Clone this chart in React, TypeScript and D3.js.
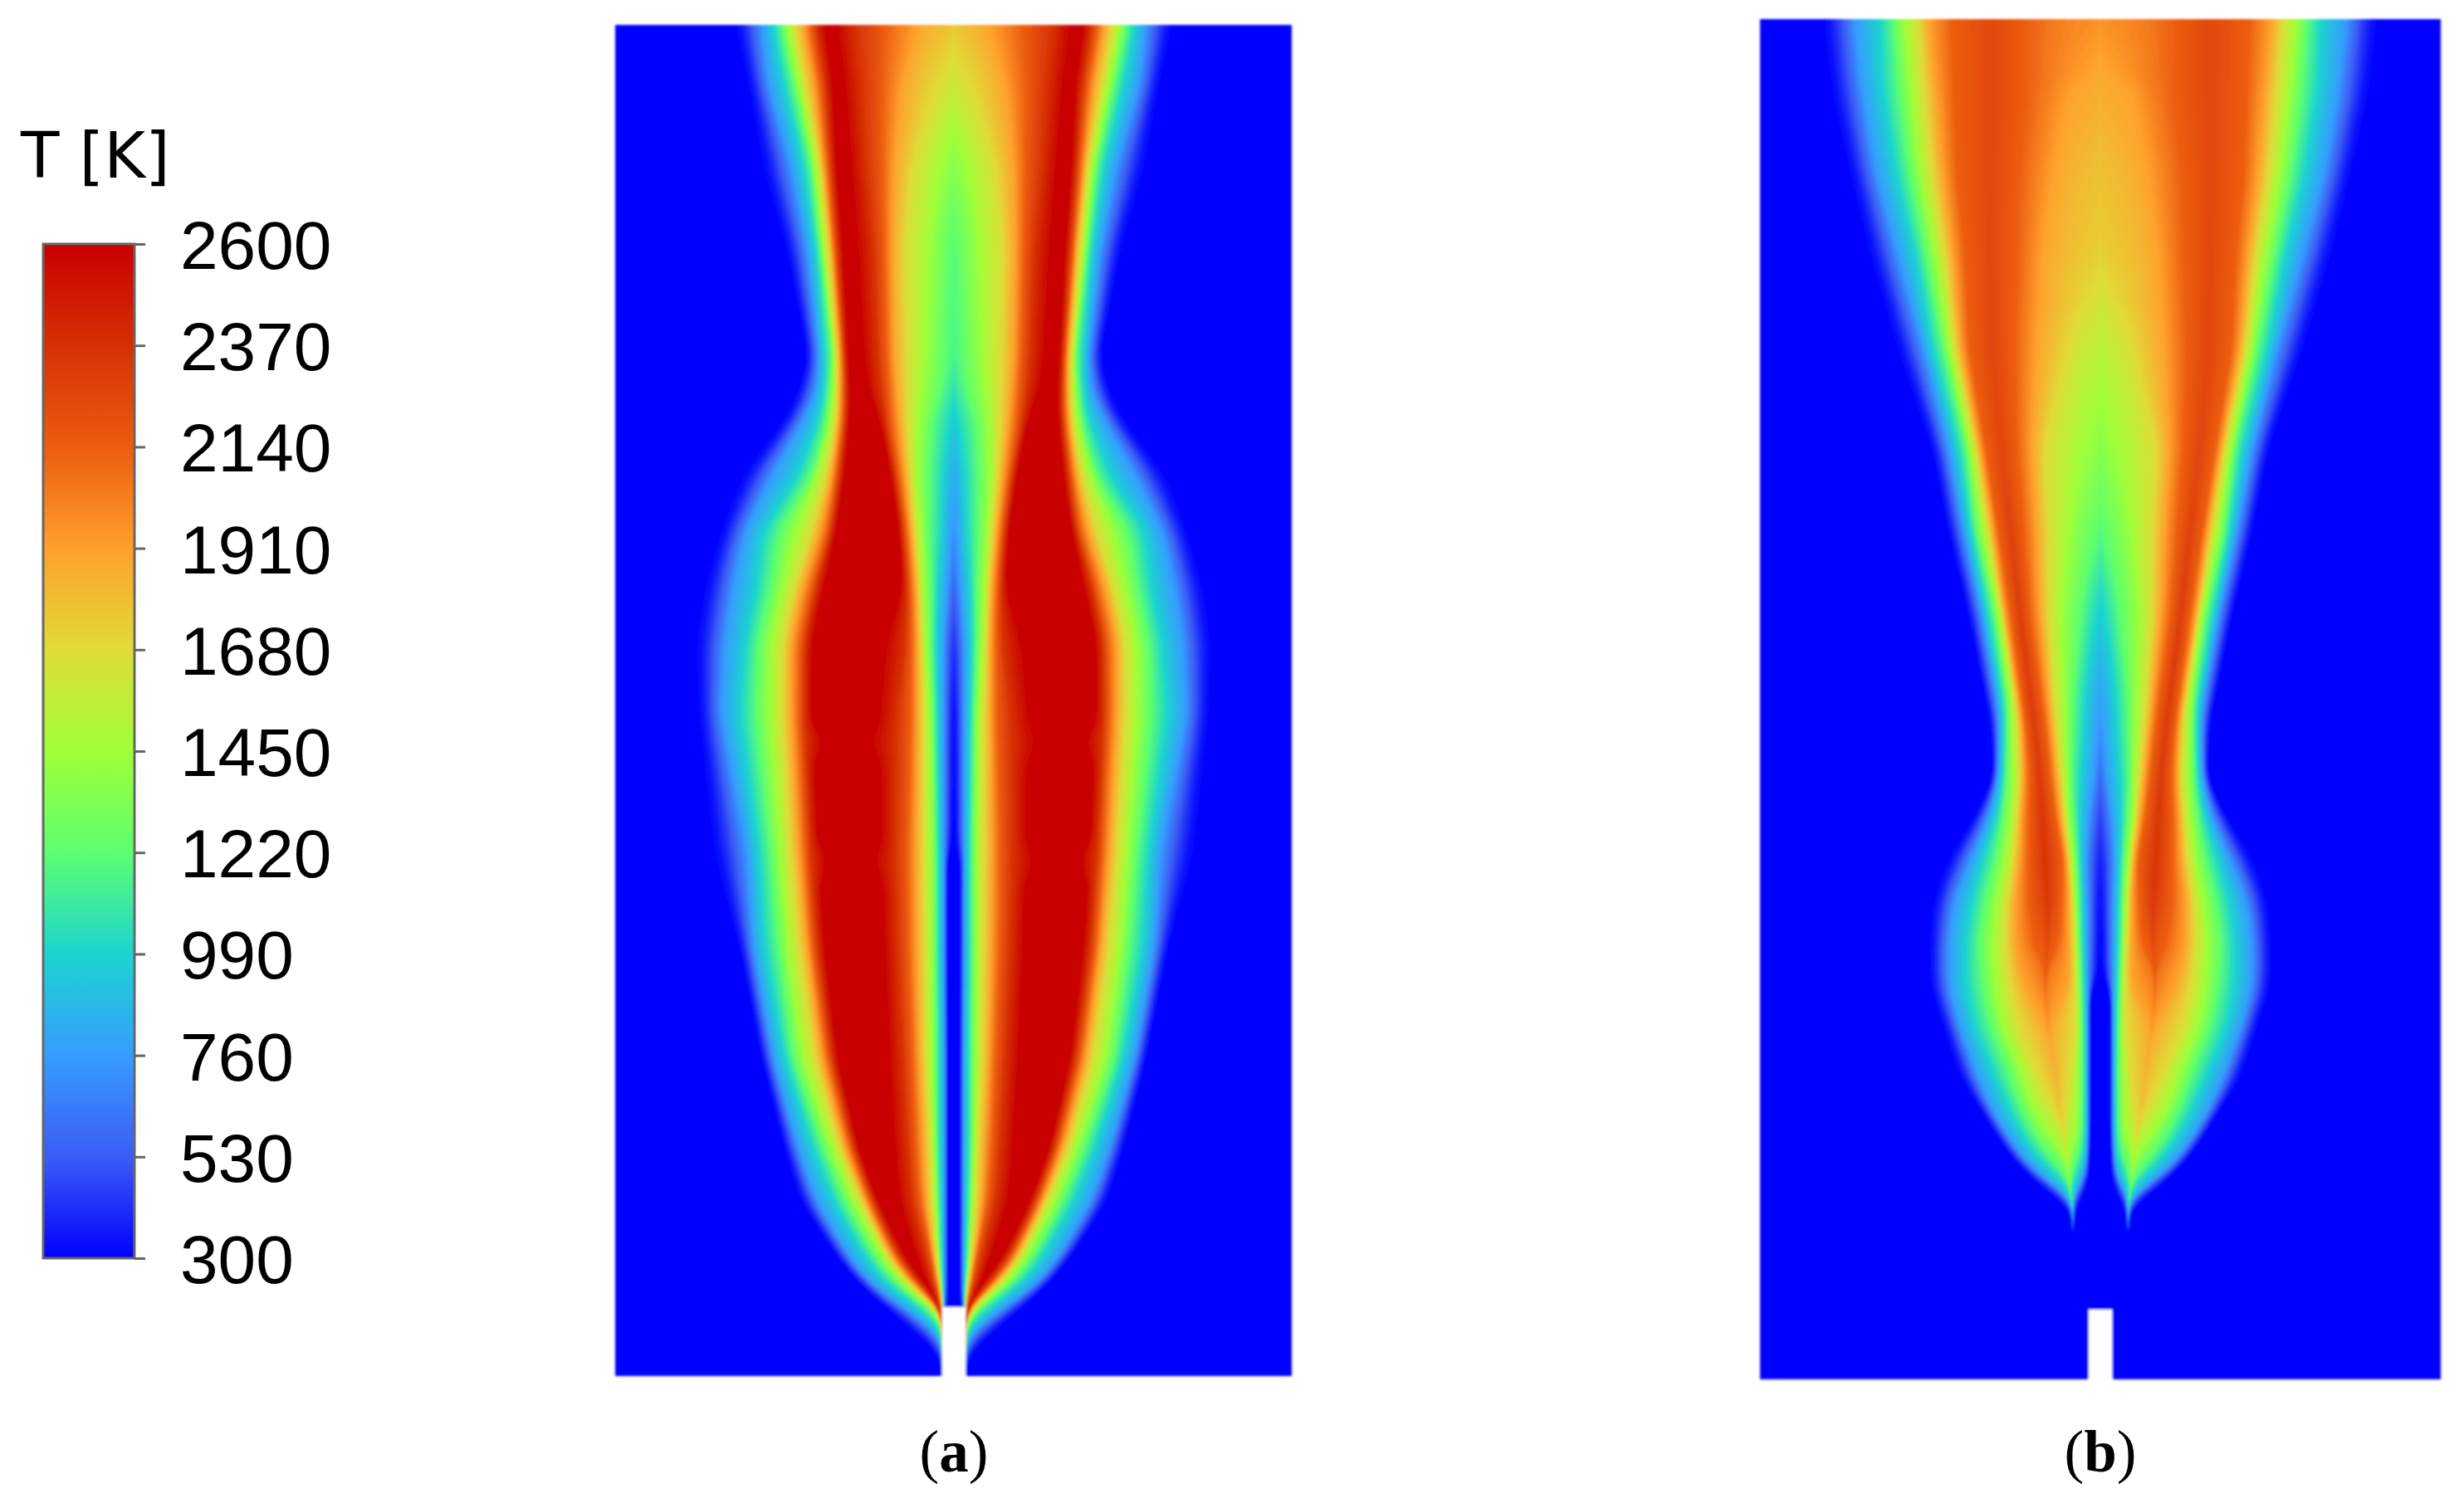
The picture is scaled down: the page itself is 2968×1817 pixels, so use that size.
import { useEffect, useRef } from "react";
import * as d3 from "d3";

// colour bar
const colorStops = [300, 530, 760, 990, 1220, 1450, 1680, 1910, 2140, 2370, 2600];
const colorValues = ["#0000ff", "#3c5cf5", "#369cff", "#1cd4d0", "#5cff70", "#a0ff38", "#e0dc38", "#ffa02c", "#ec5c10", "#d63004", "#c80000"];
const tickLabels = [2600, 2370, 2140, 1910, 1680, 1450, 1220, 990, 760, 530, 300];

// isotherm levels: each profile row gives the radius (px from the axis) of these temperatures
const levels = [300, 760, 990, 1220, 1450, 1680, 1910, 2140, 2370, 2600];

// panel (a)
const aHeights = [30, 100, 200, 300, 430, 473, 507, 573, 640, 707, 773, 860, 1027, 1140, 1275, 1380, 1447, 1513, 1547, 1575, 1590, 1610, 1630, 1658];
const aOuter = [
  [269, 232, 219, 209, 201, 192, 182, 174, 166, 156],
  [252, 224, 206, 194, 187, 179, 169, 161, 154, 146],
  [236, 196, 182, 172, 167, 161, 157, 152, 147, 142],
  [206, 177, 167, 161, 157, 152, 147, 144, 139, 134],
  [179, 162, 156, 147, 144, 141, 137, 134, 131, 127],
  [192, 166, 157, 151, 146, 141, 137, 133, 129, 125],
  [209, 182, 164, 154, 149, 142, 138, 134, 130, 126],
  [262, 219, 189, 172, 164, 154, 147, 142, 137, 132],
  [286, 252, 232, 212, 192, 172, 161, 152, 147, 142],
  [306, 266, 239, 221, 206, 192, 182, 172, 165, 156],
  [316, 276, 252, 236, 221, 206, 196, 186, 179, 171],
  [312, 281, 259, 239, 222, 207, 196, 187, 180, 171],
  [296, 249, 236, 221, 209, 197, 187, 179, 172, 163],
  [262, 242, 229, 212, 201, 187, 177, 171, 164, 156],
  [235, 218, 205, 194, 182, 168, 159, 152, 146, 140],
  [209, 189, 172, 159, 149, 139, 132, 126, 121, 116],
  [189, 166, 146, 132, 122, 112, 107, 102, 97, 92],
  [146, 127, 109, 97, 87, 81, 76, 71, 66, 59],
  [119, 101, 84, 72, 64, 56, 51, 46, 41, 36],
  [89, 62, 46, 32, 26, 21, 18, 16],
  [69, 39, 27, 17],
  [49, 19],
  [22],
  [14],
];
const aInner = [
  [0, 0, 0, 0, 0, 0, 42, 82, 119, 142],
  [0, 0, 0, 0, 0, 19, 62, 86, 112, 132],
  [0, 0, 0, 0, 16, 49, 72, 86, 106, 124],
  [0, 0, 0, 0, 29, 59, 74, 84, 97, 116],
  [0, 0, 0, 9, 34, 56, 72, 81, 92, 109],
  [0, 0, 0, 14, 38, 56, 69, 78, 88, 103],
  [0, 0, 0, 26, 42, 56, 66, 76, 83, 89],
  [0, 0, 12, 29, 44, 52, 59, 66, 71, 76],
  [0, 0, 14, 29, 39, 46, 52, 57, 62, 66],
  [0, 7, 19, 27, 36, 41, 46, 52, 57, 62],
  [0, 12, 21, 27, 34, 39, 44, 51, 59, 82],
  [0, 12, 19, 24, 29, 36, 44, 52, 69, 90],
  [7, 12, 17, 22, 27, 36, 46, 56, 71, 87],
  [7, 12, 17, 22, 27, 35, 45, 55, 68, 84],
  [7, 11, 16, 21, 27, 34, 42, 50, 62, 78],
  [7, 11, 16, 21, 24, 29, 37, 46, 56, 72],
  [7, 11, 15, 19, 22, 27, 34, 41, 51, 66],
  [7, 11, 14, 17, 19, 21, 25, 27, 34, 46],
  [7, 11, 13, 15, 16, 17, 19, 22, 26, 31],
  [7, 11, 12, 12.5, 13, 13, 13.5, 14],
  [13],
  [13],
  [13],
  [14],
];
const aAxis = [1800, 1650, 1400, 1220, 1180, 1100, 990, 850, 760, 600, 450, 350, 300, 300, 300, 300, 300, 300, 300, 300, 300, 300, 300, 300];
const aPeak = [2600, 2600, 2600, 2600, 2600, 2600, 2600, 2600, 2600, 2600, 2600, 2600, 2600, 2600, 2600, 2600, 2600, 2600, 2600, 2300, 1300, 800, 400, 300];
const aRidge = [150, 140, 133, 125, 118, 114, 108, 104, 104, 109, 126, 130, 124, 120, 109, 94, 79, 52, 33, 15, 14, 14, 14, 14];

// panel (b)
const bHeights = [23, 110, 210, 310, 420, 540, 640, 740, 850, 870, 937, 980, 1037, 1087, 1137, 1187, 1237, 1300, 1333, 1367, 1400, 1427, 1443, 1452, 1458, 1462, 1662];
const bOuter = [
  [340, 297, 267, 250, 237, 220, 207, 180],
  [330, 287, 263, 243, 228, 213, 198, 177],
  [307, 270, 247, 230, 217, 203, 190, 173],
  [283, 243, 223, 210, 198, 187, 177, 163],
  [250, 213, 203, 190, 182, 175, 168, 158],
  [207, 183, 172, 162, 157, 150, 145, 138],
  [187, 165, 157, 150, 142, 135, 129, 123],
  [163, 143, 137, 128, 123, 118, 115, 108],
  [140, 124, 118, 112, 107, 102, 98, 93],
  [134, 122, 117, 112, 107, 100, 95, 90],
  [130, 123, 118, 113, 105, 97, 92, 85],
  [153, 133, 125, 117, 108, 100, 95, 87],
  [190, 157, 143, 127, 115, 105, 97, 87],
  [207, 177, 157, 140, 125, 113, 103, 87],
  [210, 183, 163, 147, 130, 115, 103, 80],
  [210, 183, 163, 143, 127, 110, 93],
  [193, 170, 153, 133, 118, 100],
  [173, 147, 127, 108, 92, 73],
  [150, 133, 113, 97, 83, 60],
  [130, 113, 97, 80, 63],
  [107, 90, 73, 58],
  [80, 60, 47],
  [60],
  [52],
  [42],
  [33],
  [33],
];
const bInner = [
  [0, 0, 0, 0, 0, 0, 0, 87],
  [0, 0, 0, 0, 0, 0, 37, 87],
  [0, 0, 0, 0, 0, 0, 57, 97],
  [0, 0, 0, 0, 0, 0, 70, 100],
  [0, 0, 0, 0, 0, 37, 77, 103],
  [0, 0, 0, 0, 20, 67, 83, 100],
  [0, 0, 0, 0, 37, 62, 77, 92],
  [0, 0, 0, 23, 47, 62, 73, 85],
  [0, 0, 18, 33, 43, 55, 62, 70],
  [0, 0, 18, 33, 43, 53, 60, 67],
  [0, 7, 23, 35, 40, 47, 53, 60],
  [0, 13, 25, 32, 40, 43, 49, 55],
  [0, 17, 23, 28, 33, 37, 40, 45],
  [0, 15, 21, 26, 30, 34, 38, 47],
  [0, 15, 20, 25, 28, 32, 38, 50],
  [12, 15, 19, 23, 27, 30, 37],
  [12, 15, 18, 22, 25, 30],
  [12, 15, 18, 21, 27, 37],
  [12, 15, 18, 22, 28, 40],
  [12, 15, 18, 22, 28],
  [12, 17, 20, 27],
  [12, 20, 27],
  [16],
  [18],
  [22],
  [33],
  [33],
];
const bAxis = [1980, 1880, 1800, 1750, 1560, 1400, 1240, 1000, 800, 780, 620, 500, 400, 350, 320, 300, 300, 300, 300, 300, 300, 300, 300, 300, 300, 300, 300];
const bPeak = [2260, 2260, 2260, 2260, 2270, 2270, 2290, 2320, 2330, 2320, 2340, 2350, 2370, 2340, 2210, 2040, 1900, 1840, 1760, 1580, 1350, 1050, 650, 400, 320, 300, 300];
const bRidge = [133, 133, 133, 132, 130, 120, 108, 97, 83, 80, 73, 70, 67, 63, 63, 67, 63, 53, 50, 43, 40, 37, 35, 33, 33, 33, 33];

const panels = [
  { id: "a", left: 741, right: 1556, top: 30, bottom: 1658, axisX: 1149, notchTop: 1575, notch: 14, caption: "a", heights: aHeights, outer: aOuter, inner: aInner, axis: aAxis, peak: aPeak, ridge: aRidge },
  { id: "b", left: 2120, right: 2940, top: 23, bottom: 1662, axisX: 2530, notchTop: 1578, notch: 14, caption: "b", heights: bHeights, outer: bOuter, inner: bInner, axis: bAxis, peak: bPeak, ridge: bRidge },
];

const color = d3.scaleLinear<string>().domain(colorStops).range(colorValues).interpolate(d3.interpolateRgb);

const STEP = 8;

// radius for temperature t; first segment eases in so the edges stay soft
function radiusAt(stops: number[][], t: number) {
  if (t <= stops[0][0]) return stops[0][1];
  for (let i = 1; i < stops.length; i++) {
    if (t <= stops[i][0]) {
      let u = (t - stops[i - 1][0]) / (stops[i][0] - stops[i - 1][0]);
      if (i === 1) u = Math.pow(u, 0.6);
      return stops[i - 1][1] + (stops[i][1] - stops[i - 1][1]) * u;
    }
  }
  return stops[stops.length - 1][1];
}

// stops for any height between two read rows
function stopsAt(p: any, h: number) {
  const j = Math.min(Math.max(d3.bisectRight(p.heights, h), 1), p.heights.length - 1);
  const i = j - 1;
  const f = Math.min(1, (h - p.heights[i]) / (p.heights[j] - p.heights[i]));
  const axis = d3.interpolateNumber(p.axis[i], p.axis[j])(f);
  const peak = d3.interpolateNumber(p.peak[i], p.peak[j])(f);
  const ridge = d3.interpolateNumber(p.ridge[i], p.ridge[j])(f);
  const top = peak >= 2600;

  const out: number[][] = [];
  const inn: number[][] = [[axis, 0]];
  levels.forEach((l, k) => {
    const keep = top ? l <= peak : l < peak;
    if (keep) {
      out.push([l, d3.interpolateNumber(p.outer[i][k] ?? p.ridge[i], p.outer[j][k] ?? p.ridge[j])(f)]);
    }
    if (k === 0) {
      if (axis <= 300.001) inn[0][1] = d3.interpolateNumber(p.inner[i][0] ?? p.ridge[i], p.inner[j][0] ?? p.ridge[j])(f);
      return;
    }
    if (keep && l > axis) {
      const a = p.inner[i][k] ?? p.ridge[i];
      const b = p.inner[j][k] ?? p.ridge[j];
      if (a === 0 && b > 0) {
        // level leaves the axis somewhere between the two rows
        const fc = Math.max(0, (p.axis[i] - l) / (p.axis[i] - p.axis[j]));
        inn.push([l, b * Math.sqrt(Math.max(0, (f - fc) / (1 - fc)))]);
      } else {
        inn.push([l, d3.interpolateNumber(a, b)(f)]);
      }
    }
  });
  if (!top) {
    out.push([peak, ridge]);
    if (peak > axis) inn.push([peak, ridge]);
  }
  return { h, out, inn, peak };
}

function smooth(v: number[]) {
  return v.map((d, i) => (v[Math.max(0, i - 1)] + 2 * d + v[Math.min(v.length - 1, i + 1)]) / 4);
}

function drawPanel(svg: any, p: any) {
  const y = d3.scaleLinear().domain([p.top, p.bottom]).range([p.top, p.bottom]);
  const hs = d3.range(p.top, p.bottom, STEP).concat([p.bottom]);
  const rows = hs.map((h: number) => stopsAt(p, h));

  const g = svg.append("g").attr("filter", "url(#soft)");
  g.append("rect")
    .attr("x", p.left)
    .attr("y", p.top)
    .attr("width", p.right - p.left)
    .attr("height", p.bottom - p.top)
    .attr("fill", color(300));

  const clip = g.append("g").attr("clip-path", `url(#clip-${p.id})`);
  d3.range(320, 2601, 20).forEach((t) => {
    let x0 = rows.map((d: any) => radiusAt(d.peak < t ? d.out : d.inn, Math.min(t, d.peak)));
    let x1 = rows.map((d: any) => radiusAt(d.out, Math.min(t, d.peak)));
    for (let n = 0; n < 6; n++) {
      x0 = smooth(x0);
      x1 = smooth(x1);
    }
    const cells = hs.map((h: number, i: number) => ({ h, r0: x0[i], r1: x1[i] }));
    [-1, 1].forEach((side) => {
      const x = d3.scaleLinear().domain([0, 1]).range([p.axisX, p.axisX + side]);
      const band = d3
        .area<any>()
        .y((d) => y(d.h))
        .x0((d) => x(d.r0))
        .x1((d) => x(d.r1));
      clip.append("path").attr("d", band(cells)).attr("fill", color(t));
    });
  });

  // fuel inlet
  g.append("rect")
    .attr("x", p.axisX - p.notch)
    .attr("y", p.notchTop)
    .attr("width", p.notch * 2)
    .attr("height", p.bottom - p.notchTop + 6)
    .attr("fill", "#fff");

  const cap = svg
    .append("text")
    .attr("x", p.axisX)
    .attr("y", 1773)
    .attr("text-anchor", "middle")
    .attr("font-family", "Liberation Serif")
    .attr("font-size", 71)
    .attr("fill", "#000");
  cap.append("tspan").text("(");
  cap.append("tspan").attr("font-weight", "bold").text(p.caption);
  cap.append("tspan").text(")");
}

function drawLegend(svg: any) {
  const y = d3.scaleLinear().domain([300, 2600]).range([1516, 294]);
  const defs = svg.select("defs");
  const grad = defs.append("linearGradient").attr("id", "ramp").attr("x1", 0).attr("x2", 0).attr("y1", 1).attr("y2", 0);
  colorStops.forEach((t) => {
    grad.append("stop").attr("offset", (t - 300) / 2300).attr("stop-color", color(t));
  });

  svg.append("rect")
    .attr("x", 52)
    .attr("y", y(2600))
    .attr("width", 110)
    .attr("height", y(300) - y(2600))
    .attr("fill", "url(#ramp)")
    .attr("stroke", "#666")
    .attr("stroke-width", 3);

  const axis = d3.axisRight(y).tickValues(tickLabels).tickSize(13).tickPadding(42).tickFormat((d: any) => `${d}`);
  const ag = svg.append("g").attr("transform", "translate(162,0)").call(axis);
  ag.select(".domain").remove();
  ag.selectAll("line").attr("stroke", "#666").attr("stroke-width", 3);
  ag.selectAll("text")
    .attr("font-family", "Liberation Sans")
    .attr("font-size", 82)
    .attr("fill", "#000")
    .attr("dy", "0.36em");

  svg.append("text")
    .attr("x", 25)
    .attr("y", 214)
    .attr("font-family", "DejaVu Sans")
    .attr("font-size", 76)
    .attr("fill", "#000")
    .text("T [K]");
}

export default function App() {
  const svgRef = useRef<SVGSVGElement>(null);

  useEffect(() => {
    const svg = d3.select(svgRef.current);
    svg.selectAll("*").remove();
    const defs = svg.append("defs");
    defs.append("filter")
      .attr("id", "soft")
      .attr("filterUnits", "userSpaceOnUse")
      .attr("x", 0)
      .attr("y", 0)
      .attr("width", 2968)
      .attr("height", 1817)
      .append("feGaussianBlur")
      .attr("stdDeviation", 1.6);
    panels.forEach((p) => {
      defs.append("clipPath")
        .attr("id", `clip-${p.id}`)
        .append("rect")
        .attr("x", p.left)
        .attr("y", p.top)
        .attr("width", p.right - p.left)
        .attr("height", p.bottom - p.top);
      drawPanel(svg, p);
    });
    drawLegend(svg);
  }, []);

  return (
    <svg
      ref={svgRef}
      width={2968}
      height={1817}
      viewBox="0 0 2968 1817"
      style={{ position: "absolute", left: 0, top: 0, background: "#fff" }}
    />
  );
}
